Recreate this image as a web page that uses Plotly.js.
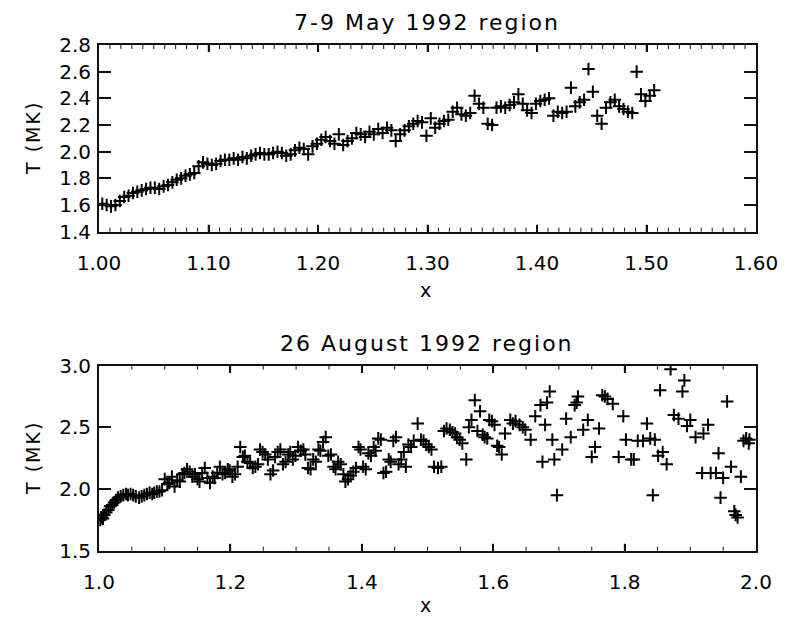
<!DOCTYPE html>
<html>
<head>
<meta charset="utf-8">
<script src="https://cdn.plot.ly/plotly-3.0.1.min.js"></script>
<style>
html,body{margin:0;padding:0;background:#fff;}
#chart{width:787px;height:620px;}
#chart .annotation-text{letter-spacing:2px;}
</style>
</head>
<body>
<div id="chart"></div>
<script>
// ---- Top panel: 7-9 May 1992 region ----
const mayX = [1.003,1.007,1.011,1.015,1.019,1.023,1.027,1.031,1.035,1.039,1.043,1.047,1.051,1.055,1.059,1.063,1.067,1.071,1.075,1.079,1.083,1.087,1.091,1.095,1.099,1.103,1.107,1.111,1.115,1.119,1.123,1.127,1.131,1.135,1.139,1.143,1.147,1.151,1.155,1.159,1.163,1.167,1.171,1.175,1.179,1.183,1.187,1.191,1.195,1.199,1.203,1.207,1.211,1.215,1.219,1.223,1.227,1.231,1.235,1.239,1.243,1.247,1.251,1.255,1.259,1.263,1.267,1.271,1.275,1.279,1.283,1.287,1.291,1.295,1.299,1.303,1.307,1.311,1.315,1.319,1.323,1.327,1.331,1.335,1.339,1.343,1.347,1.351,1.355,1.359,1.363,1.367,1.371,1.375,1.379,1.383,1.387,1.391,1.395,1.399,1.403,1.407,1.411,1.415,1.419,1.423,1.427,1.431,1.435,1.439,1.443,1.447,1.451,1.455,1.459,1.463,1.467,1.471,1.475,1.479,1.483,1.487,1.491,1.495,1.499,1.503,1.507];
const mayT = [1.61,1.60,1.59,1.60,1.63,1.66,1.67,1.69,1.70,1.71,1.72,1.73,1.73,1.72,1.74,1.75,1.77,1.79,1.80,1.82,1.83,1.84,1.89,1.92,1.91,1.90,1.91,1.93,1.94,1.94,1.95,1.94,1.96,1.95,1.97,1.98,1.99,1.98,1.98,1.99,2.00,1.99,1.97,1.98,2.01,2.03,2.02,1.98,2.04,2.06,2.09,2.11,2.08,2.06,2.13,2.05,2.08,2.10,2.14,2.13,2.11,2.15,2.13,2.17,2.14,2.18,2.16,2.08,2.13,2.16,2.19,2.21,2.23,2.22,2.12,2.25,2.18,2.21,2.23,2.24,2.30,2.33,2.28,2.27,2.29,2.42,2.36,2.33,2.21,2.20,2.33,2.34,2.33,2.35,2.37,2.43,2.36,2.31,2.29,2.36,2.38,2.39,2.40,2.27,2.30,2.29,2.30,2.48,2.34,2.37,2.39,2.62,2.45,2.27,2.21,2.33,2.37,2.39,2.34,2.32,2.30,2.29,2.60,2.43,2.38,2.42,2.46];
const mayTickX = [1.0,1.1,1.2,1.3,1.4,1.5,1.6];
const mayTickY = [1.4,1.6,1.8,2.0,2.2,2.4,2.6,2.8];

// ---- Bottom panel: 26 August 1992 region ----
const augX = [
1.002,1.004,1.006,1.008,1.011,1.014,1.017,1.020,1.023,1.026,
1.029,1.033,1.037,1.041,1.044,1.048,1.052,1.056,1.061,1.065,
1.069,1.073,1.077,1.081,1.084,1.088,1.092,1.096,1.100,1.104,
1.107,1.111,1.115,1.119,1.123,1.127,1.130,1.134,1.138,1.142,
1.146,1.150,1.153,1.157,1.161,1.165,1.169,1.173,1.176,1.180,
1.184,1.188,1.192,1.196,1.199,1.203,1.207,1.211,1.215,1.219,
1.222,1.226,1.230,1.234,1.238,1.242,1.245,1.249,1.253,1.257,
1.261,1.265,1.268,1.272,1.276,1.280,1.284,1.288,1.291,1.295,
1.299,1.303,1.307,1.311,1.314,1.318,1.322,1.326,1.330,1.334,
1.337,1.341,1.345,1.349,1.353,1.357,1.360,1.364,1.368,1.372,
1.375,1.379,1.383,1.387,1.391,1.395,1.398,1.402,1.406,1.410,
1.414,1.418,1.421,1.425,1.429,1.433,1.437,1.441,1.444,1.448,
1.452,1.456,1.460,1.464,1.467,1.471,1.475,1.479,1.485,1.490,
1.494,1.498,1.502,1.506,1.510,1.516,1.521,1.525,1.529,1.534,
1.538,1.542,1.545,1.549,1.553,1.559,1.563,1.567,1.572,1.576,
1.580,1.584,1.587,1.591,1.594,1.598,1.602,1.606,1.609,1.613,
1.618,1.626,1.630,1.634,1.640,1.645,1.649,1.657,1.664,1.672,
1.675,1.679,1.682,1.686,1.690,1.693,1.697,1.705,1.711,1.718,
1.724,1.727,1.729,1.737,1.744,1.750,1.755,1.761,1.766,1.770,
1.774,1.782,1.791,1.798,1.802,1.810,1.814,1.820,1.828,1.834,
1.839,1.843,1.846,1.851,1.854,1.858,1.864,1.870,1.875,1.882,
1.888,1.891,1.895,1.900,1.908,1.918,1.920,1.927,1.931,1.939,
1.943,1.946,1.950,1.956,1.962,1.967,1.969,1.972,1.977,1.981,
1.985,1.989,1.990];
const augT = [
1.75,1.77,1.76,1.79,1.81,1.83,1.86,1.87,1.89,1.91,
1.93,1.94,1.95,1.96,1.95,1.96,1.95,1.94,1.93,1.94,
1.95,1.96,1.97,1.96,1.97,1.98,1.98,1.99,2.08,2.04,
2.05,2.10,2.02,2.07,2.06,2.12,2.13,2.16,2.14,2.10,
2.12,2.08,2.06,2.13,2.17,2.09,2.05,2.10,2.09,2.13,
2.18,2.12,2.13,2.16,2.15,2.10,2.12,2.18,2.34,2.26,
2.27,2.22,2.21,2.17,2.18,2.20,2.32,2.30,2.28,2.24,
2.12,2.15,2.26,2.30,2.32,2.20,2.22,2.28,2.30,2.24,
2.27,2.34,2.31,2.32,2.28,2.17,2.16,2.24,2.22,2.32,
2.31,2.38,2.42,2.27,2.28,2.18,2.16,2.22,2.20,2.12,
2.06,2.08,2.11,2.14,2.17,2.34,2.32,2.18,2.16,2.29,
2.27,2.34,2.31,2.41,2.40,2.13,2.14,2.24,2.22,2.39,
2.42,2.20,2.24,2.30,2.18,2.36,2.34,2.39,2.53,2.40,
2.39,2.36,2.34,2.32,2.18,2.17,2.18,2.47,2.49,2.48,
2.46,2.45,2.42,2.40,2.37,2.24,2.50,2.56,2.72,2.47,
2.63,2.44,2.42,2.41,2.56,2.55,2.52,2.35,2.34,2.28,
2.45,2.56,2.53,2.55,2.52,2.50,2.48,2.40,2.59,2.68,
2.22,2.52,2.70,2.79,2.40,2.24,1.95,2.32,2.57,2.42,
2.68,2.70,2.75,2.48,2.56,2.26,2.34,2.49,2.76,2.75,
2.73,2.69,2.26,2.59,2.40,2.24,2.24,2.39,2.39,2.53,
2.41,1.95,2.40,2.27,2.80,2.30,2.20,2.97,2.60,2.57,
2.79,2.88,2.51,2.56,2.42,2.13,2.45,2.52,2.13,2.13,
2.29,1.93,2.09,2.71,2.18,1.82,1.79,1.77,2.10,2.39,
2.41,2.37,2.40];
const augTickX = [1.0,1.2,1.4,1.6,1.8,2.0];
const augTickY = [1.5,2.0,2.5,3.0];

const fontFam = "DejaVu Sans, Liberation Sans, sans-serif";
const INK = "#111";

const mk = {symbol: "cross-thin", size: 9, color: "#000", line: {color: "#000", width: 2}};

const traces = [
  {x: mayX, y: mayT, type: "scatter", mode: "markers", marker: mk, xaxis: "x", yaxis: "y", hoverinfo: "x+y"},
  {x: augX, y: augT, type: "scatter", mode: "markers", marker: mk, xaxis: "x2", yaxis: "y2", hoverinfo: "x+y"}
];

const W = 787, H = 620;
const px = v => v / W;
const py = v => 1 - v / H;

function axisBase(tickvals, fmt) {
  return {
    showline: true, linecolor: INK, linewidth: 2, mirror: "ticks",
    ticks: "inside", tickcolor: INK, tickwidth: 1.5,
    tickmode: "array", tickvals: tickvals,
    ticktext: tickvals.map(v => v.toFixed(fmt)),
    showgrid: false, zeroline: false,
    tickfont: {family: fontFam, size: 20, color: "#000"}
  };
}

// tick marks along the box edges (inside, on all four sides), placed with the axes' own scales
function xEdgeTicks(xref, yref, vals, len, w) {
  const out = [];
  vals.forEach(v => {
    out.push({type: "line", layer: "above", xref: xref, yref: yref, x0: v, x1: v, ysizemode: "pixel", yanchor: 0, y0: 0, y1: len, line: {color: INK, width: w}});
    out.push({type: "line", layer: "above", xref: xref, yref: yref, x0: v, x1: v, ysizemode: "pixel", yanchor: 1, y0: 0, y1: -len, line: {color: INK, width: w}});
  });
  return out;
}
function yEdgeTicks(xref, yref, vals, len, w) {
  const out = [];
  vals.forEach(v => {
    out.push({type: "line", layer: "above", xref: xref, yref: yref, y0: v, y1: v, xsizemode: "pixel", xanchor: 0, x0: 0, x1: len, line: {color: INK, width: w}});
    out.push({type: "line", layer: "above", xref: xref, yref: yref, y0: v, y1: v, xsizemode: "pixel", xanchor: 1, x0: 0, x1: -len, line: {color: INK, width: w}});
  });
  return out;
}
function minorBetween(majors, parts) {
  const out = [];
  for (let i = 0; i < majors.length - 1; i++) {
    const a = majors[i], b = majors[i + 1];
    for (let k = 1; k < parts; k++) out.push(+(a + (b - a) * k / parts).toFixed(4));
  }
  return out;
}

const shapes = [].concat(
  xEdgeTicks("x", "y domain", mayTickX.slice(1, -1), 7, 1.5),
  xEdgeTicks("x", "y domain", minorBetween(mayTickX, 10), 4, 1),
  yEdgeTicks("x domain", "y", mayTickY.slice(1, -1), 12, 1.5),
  xEdgeTicks("x2", "y2 domain", augTickX.slice(1, -1), 7, 1.5),
  xEdgeTicks("x2", "y2 domain", minorBetween(augTickX, 4), 4, 1),
  yEdgeTicks("x2 domain", "y2", augTickY.slice(1, -1), 12, 1.5)
);

const layout = {
  width: W, height: H,
  margin: {l: 0, r: 0, t: 0, b: 0},
  paper_bgcolor: "#fff", plot_bgcolor: "#fff",
  showlegend: false,
  xaxis: Object.assign(axisBase(mayTickX, 2), {
    domain: [px(99), px(756)], anchor: "y", range: [1.0, 1.6], ticklen: 7, ticklabelstandoff: 12
  }),
  yaxis: Object.assign(axisBase(mayTickY, 1), {
    domain: [py(231.7), py(45)], anchor: "x", range: [1.4, 2.8], ticklen: 12, ticklabelstandoff: 2
  }),
  xaxis2: Object.assign(axisBase(augTickX, 1), {
    domain: [px(99), px(756)], anchor: "y2", range: [1.0, 2.0], ticklen: 7, ticklabelstandoff: 12
  }),
  yaxis2: Object.assign(axisBase(augTickY, 1), {
    domain: [py(550.7), py(365.6)], anchor: "x2", range: [1.5, 3.0], ticklen: 12, ticklabelstandoff: 2
  }),
  shapes: shapes,
  annotations: [
    {text: "7-9 May 1992 region", xref: "paper", yref: "paper", x: px(427), y: py(22), showarrow: false, xanchor: "center", yanchor: "middle", font: {family: fontFam, size: 22, color: "#000"}},
    {text: "x", xref: "paper", yref: "paper", x: px(427), y: py(290), showarrow: false, xanchor: "center", yanchor: "middle", font: {family: fontFam, size: 19, color: "#000"}},
    {text: "T (MK)", xref: "paper", yref: "paper", x: px(33), y: py(138), showarrow: false, textangle: -90, xanchor: "center", yanchor: "middle", font: {family: fontFam, size: 19, color: "#000"}},
    {text: "26 August 1992 region", xref: "paper", yref: "paper", x: px(427), y: py(343), showarrow: false, xanchor: "center", yanchor: "middle", font: {family: fontFam, size: 22, color: "#000"}},
    {text: "x", xref: "paper", yref: "paper", x: px(427), y: py(605), showarrow: false, xanchor: "center", yanchor: "middle", font: {family: fontFam, size: 19, color: "#000"}},
    {text: "T (MK)", xref: "paper", yref: "paper", x: px(33), y: py(458), showarrow: false, textangle: -90, xanchor: "center", yanchor: "middle", font: {family: fontFam, size: 19, color: "#000"}}
  ]
};

Plotly.newPlot("chart", traces, layout, {displayModeBar: false});
</script>
</body>
</html>
